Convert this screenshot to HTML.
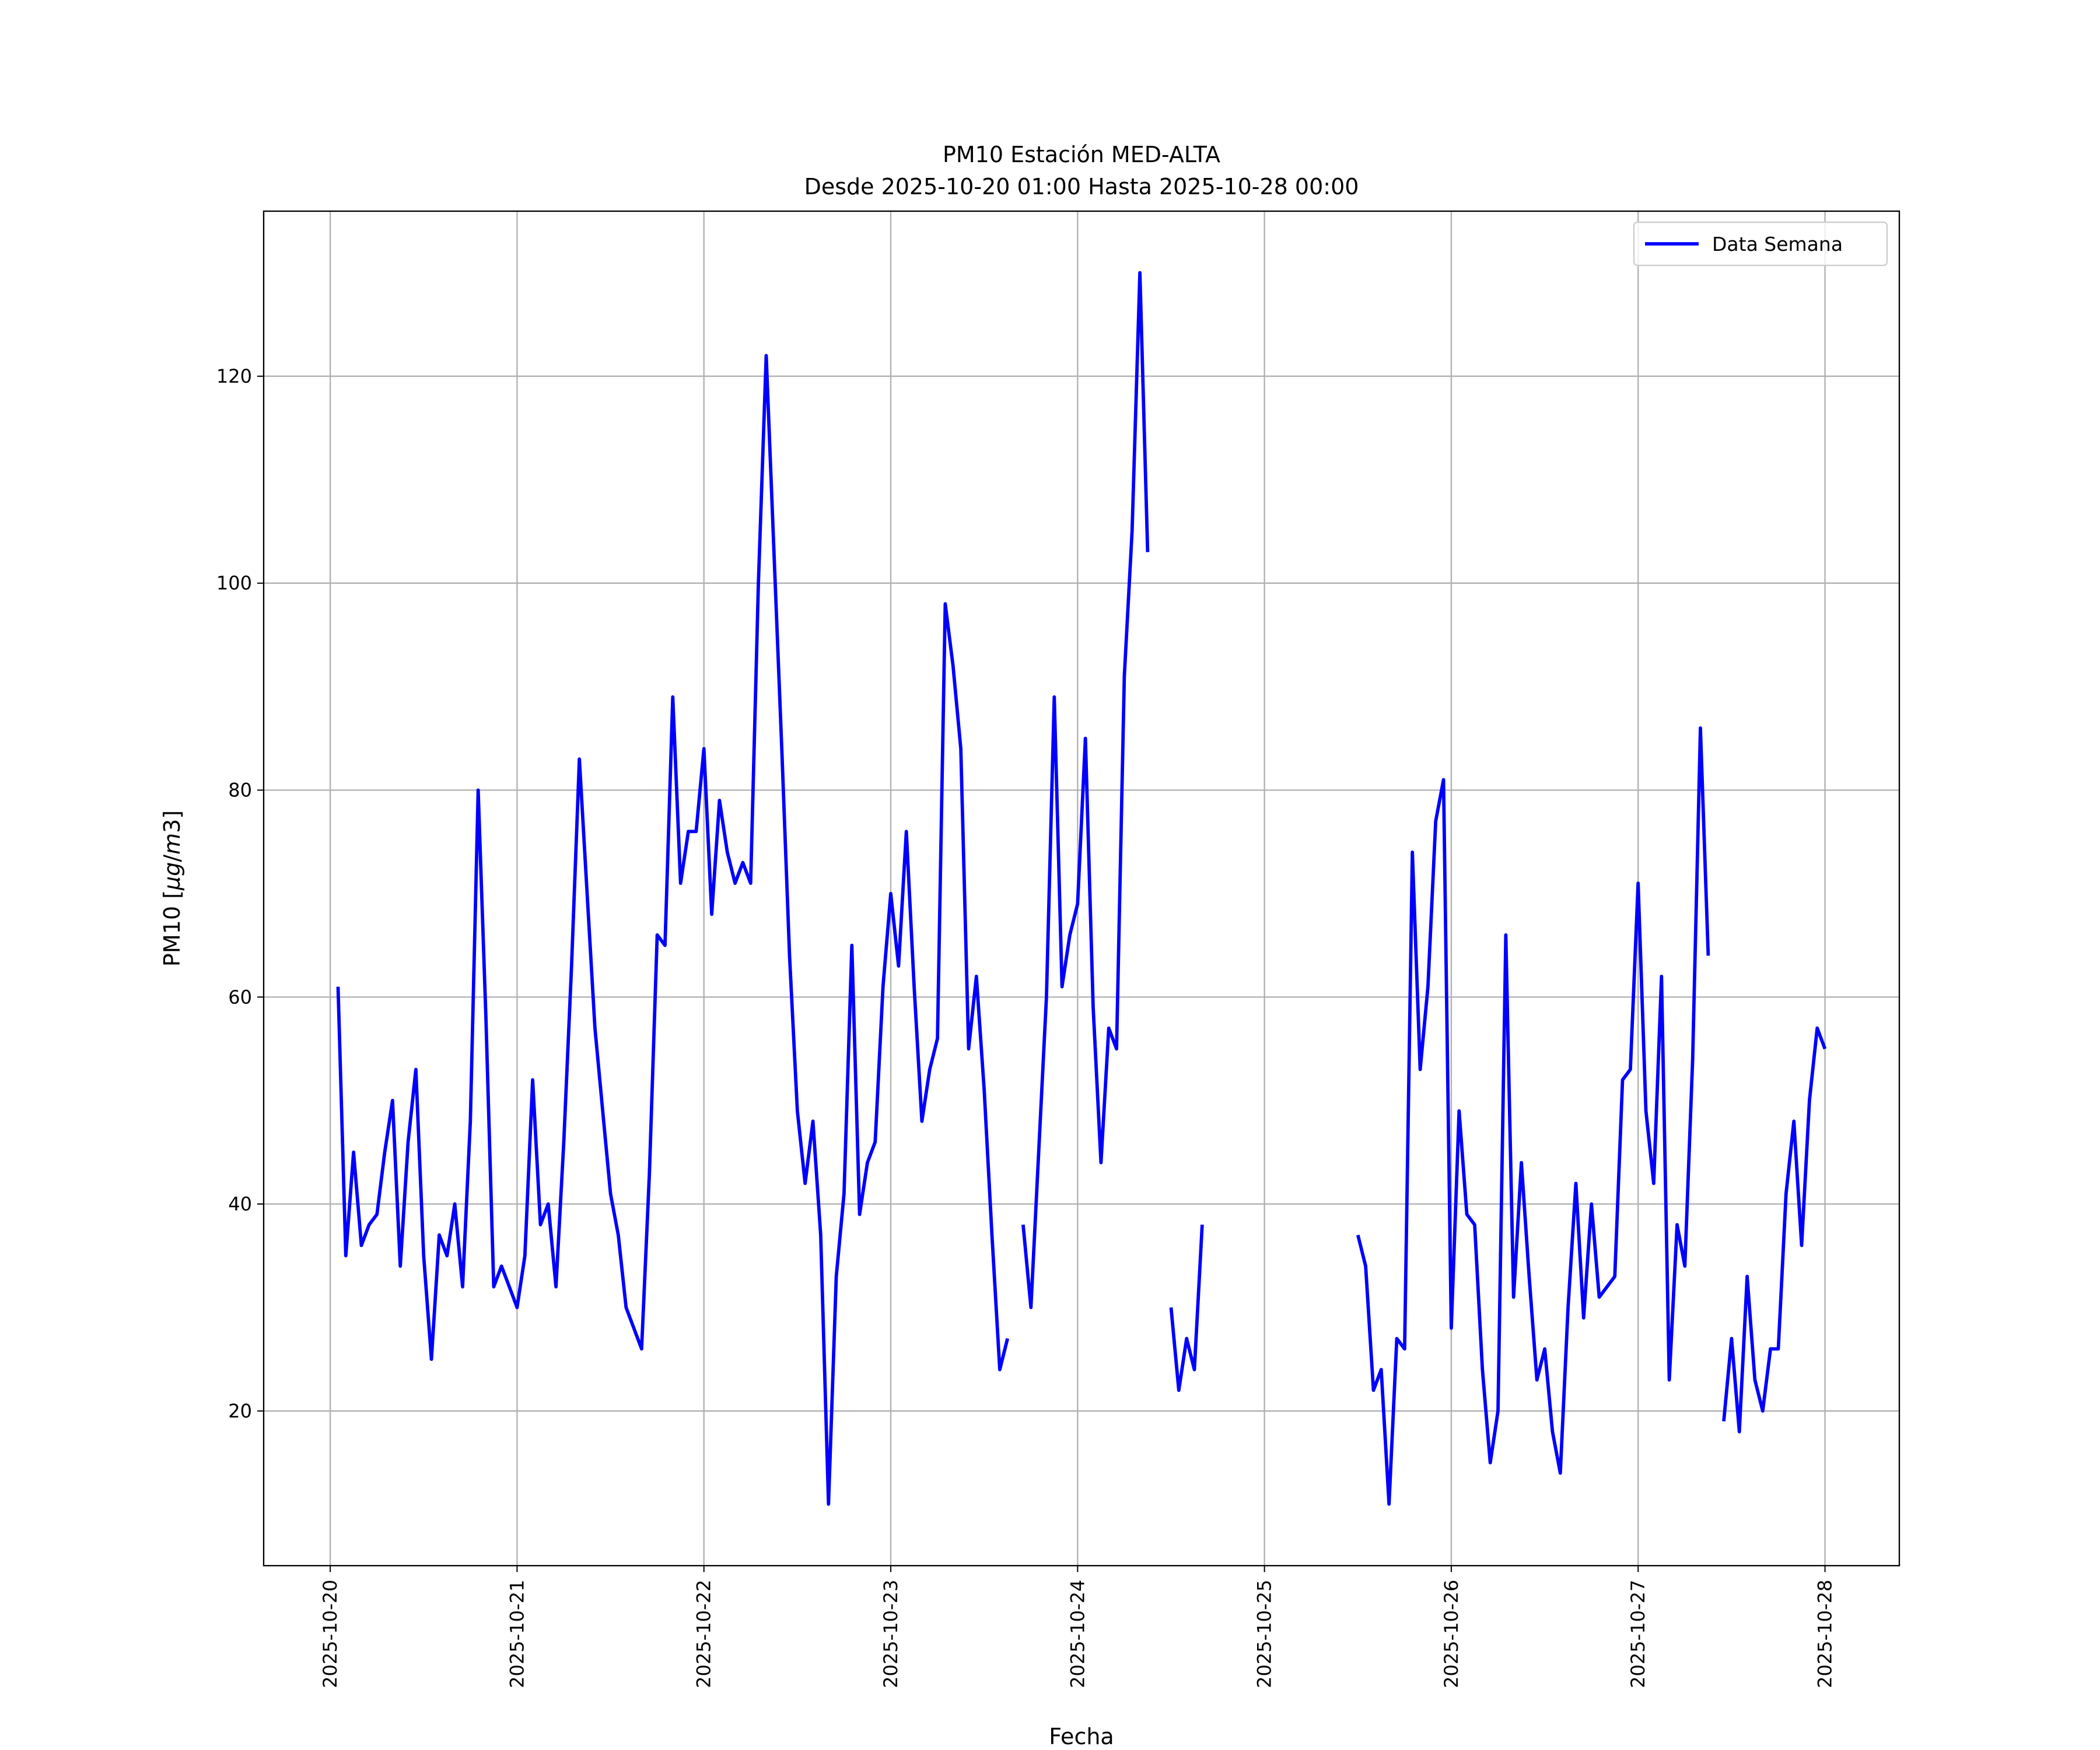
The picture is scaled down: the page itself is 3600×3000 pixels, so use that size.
<!DOCTYPE html>
<html><head><meta charset="utf-8"><style>
html,body{margin:0;padding:0;background:#fff}
svg{display:block}
text{font-family:"DejaVu Sans","Liberation Sans",sans-serif;fill:#000}
</style></head><body>
<svg id="chart" width="3600" height="3000" viewBox="0 0 3600 3000" xmlns="http://www.w3.org/2000/svg">
<rect width="3600" height="3000" fill="#fff"/>
<g id="grid"></g>
<g id="series"></g>
<rect x="452" y="362" width="2804" height="2322" fill="none" stroke="#000" stroke-width="2.3"/>
<g id="ticks"></g>
<text x="1854" y="278" font-size="38" text-anchor="middle">PM10 Estación MED-ALTA</text>
<text x="1854" y="333" font-size="38" text-anchor="middle">Desde 2025-10-20 01:00 Hasta 2025-10-28 00:00</text>
<text x="1854" y="2990" font-size="38" text-anchor="middle">Fecha</text>
<text transform="translate(308,1523) rotate(-90)" font-size="38" text-anchor="middle">PM10 [<tspan font-style="italic">μg</tspan>/<tspan font-style="italic">m</tspan>3]</text>
<g>
<rect x="2801" y="381" width="434" height="74" rx="6" fill="#fff" fill-opacity="0.8" stroke="#ccc" stroke-width="2.3"/>
<line x1="2820" y1="418" x2="2912" y2="418" stroke="#0000ff" stroke-width="5.8"/>
<text x="2935" y="430" font-size="33">Data Semana</text>
</g>
</svg>
<script>
const xTickLabels = ["2025-10-20","2025-10-21","2025-10-22","2025-10-23","2025-10-24","2025-10-25","2025-10-26","2025-10-27","2025-10-28"];
const yTickValues = [20,40,60,80,100,120];
// hourly values, index i -> hour i+1 after 2025-10-20 00:00 ; null = missing
const pm10Values = [
61,35,45,36,38,39,45,50,34,46,53,35,25,37,35,40,32,48,80,58,32,34,32,30,
35,52,38,40,32,46,63,83,70,57,49,41,37,30,28,26,43,66,65,89,71,76,76,84,
68,79,74,71,73,71,100,122,103,84,64,49,42,48,37,11,33,41,65,39,44,46,61,70,
63,76,61,48,53,56,98,92,84,55,62,51,37,24,27,null,38,30,45,60,89,61,66,69,
85,59,44,57,55,91,105,130,103,null,null,30,22,27,24,38,null,null,null,null,
null,null,null,null,null,null,null,null,null,null,null,null,null,null,null,37,34,22,24,11,
27,26,74,53,61,77,81,28,49,39,38,24,15,20,66,31,44,33,23,26,18,14,30,42,
29,40,31,32,33,52,53,71,49,42,62,23,38,34,54,86,64,null,19,27,18,33,23,20,
26,26,41,48,36,50,57,55
];
const L=452,R=3256,T=362,B=2684;
const xMin=1-0.05*191, xMax=192+0.05*191; // hours
const yMin=5.05, yMax=135.95;
const sx=h=>L+(h-xMin)/(xMax-xMin)*(R-L);
const sy=v=>B-(v-yMin)/(yMax-yMin)*(B-T);
const NS="http://www.w3.org/2000/svg";
const grid=document.getElementById('grid'), ticks=document.getElementById('ticks'), series=document.getElementById('series');
function mk(tag,attrs,parent){const e=document.createElementNS(NS,tag);for(const k in attrs)e.setAttribute(k,attrs[k]);parent.appendChild(e);return e;}
xTickLabels.forEach((lab,i)=>{
  const x=sx(i*24);
  const g=mk('line',{x1:x,y1:T,x2:x,y2:B,stroke:'#b0b0b0','stroke-width':2.3},grid);
  
  
  const t=mk('line',{x1:x,y1:B,x2:x,y2:B+11,stroke:'#000','stroke-width':2},ticks);
  
  
  const tx=mk('text',{transform:`translate(${x+11},${B+24}) rotate(-90)`,'font-size':32,'text-anchor':'end'},ticks);
  tx.textContent=lab;
  
  
});
yTickValues.forEach(v=>{
  const y=sy(v);
  const g=mk('line',{x1:L,y1:y,x2:R,y2:y,stroke:'#b0b0b0','stroke-width':2.3},grid);
  
  
  const t=mk('line',{x1:L-11,y1:y,x2:L,y2:y,stroke:'#000','stroke-width':2},ticks);
  
  
  const tx=mk('text',{x:L-20,y:y+11,'font-size':32,'text-anchor':'end'},ticks);
  tx.textContent=v;
  
  
});
let d='',pen=false;
pm10Values.forEach((v,i)=>{
  if(v===null){pen=false;return;}
  d+=(pen?'L':'M')+sx(i+1).toFixed(1)+' '+sy(v).toFixed(1)+' ';
  pen=true;
});
const p=mk('path',{d:d,fill:'none',stroke:'#0000ff','stroke-width':5.8,'stroke-linejoin':'round','stroke-linecap':'butt'},series);


</script>
</body></html>
